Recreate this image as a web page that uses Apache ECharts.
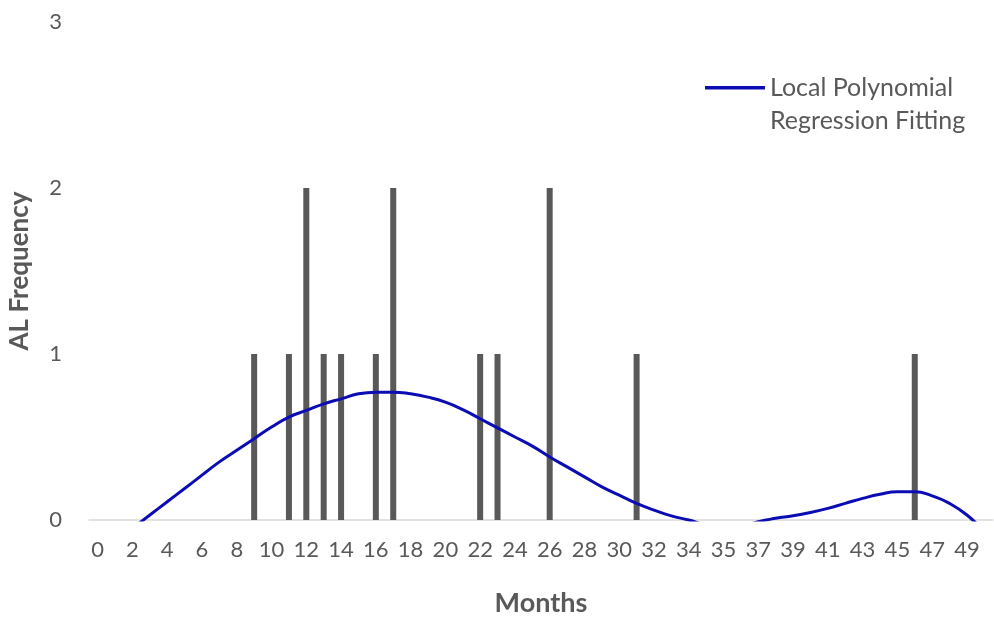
<!DOCTYPE html>
<html>
<head>
<meta charset="utf-8">
<script src="https://cdn.jsdelivr.net/npm/echarts@6/dist/echarts.min.js"></script>
<style>
  html, body { margin: 0; padding: 0; background: #fff; }
  #chart { width: 994px; height: 619px; }
</style>
</head>
<body>
<div id="chart"></div>
<script>
// categories of the x axis (months), only every second one is labelled
var months = ['0','1','2','3','4','5','6','7','8','9','10','11','12','13','14','15','16','17','18','19',
  '20','21','22','23','24','25','26','27','28','29','30','31','32','33','34','35','35','36','37','38',
  '39','40','41','42','43','44','45','46','47','48','49','50'];

// AL frequency per month (bars)
var alFrequency = [null,null,null,null,null,null,null,null,null,1,null,1,2,1,1,null,1,2,null,null,
  null,null,1,1,null,null,2,null,null,null,null,1,null,null,null,null,null,null,null,null,
  null,null,null,null,null,null,null,1,null,null,null,null];

// local polynomial regression fit (negative parts fall under the axis and get clipped)
var loessFit = [-0.2,-0.13,-0.05,0.03,0.11,0.19,0.27,0.35,0.42,0.49,0.56,0.62,0.66,0.70,0.73,0.76,0.77,0.77,0.76,0.74,
  0.71,0.665,0.61,0.555,0.50,0.445,0.38,0.32,0.26,0.20,0.15,0.10,0.06,0.025,0.0,-0.03,-0.045,-0.04,-0.01,0.01,
  0.025,0.045,0.07,0.10,0.13,0.155,0.17,0.17,0.145,0.10,0.03,-0.07];

var grey = '#595959';
var font = 'Lato';

var chart = echarts.init(document.getElementById('chart'));
chart.setOption({
  animation: false,
  grid: { left: 89, right: 1, top: 22, bottom: 99, outerBoundsMode: 'none' },
  legend: {
    // line at the top of a tall box so it lines up with the first text line
    data: [{ name: 'Local Polynomial Regression Fitting', icon: 'path://M0,0H60V3.5H0Z M0,36h0.01v0.01h-0.01Z' }],
    left: 700,
    top: 66,
    itemWidth: 60,
    itemHeight: 36,
    itemGap: 0,
    formatter: function () { return 'Local Polynomial\nRegression Fitting'; },
    textStyle: { color: grey, fontFamily: font, fontSize: 25, lineHeight: 33 }
  },
  xAxis: {
    type: 'category',
    data: months,
    boundaryGap: true,
    name: 'Months',
    nameLocation: 'middle',
    nameGap: 70,
    nameTextStyle: { color: grey, fontFamily: font, fontSize: 27, fontWeight: 'bold' },
    axisLine: { lineStyle: { color: '#d9d9d9', width: 1.5 } },
    axisTick: { show: false },
    axisLabel: { interval: 1, color: grey, fontFamily: font, fontSize: 22, margin: 19 }
  },
  yAxis: {
    type: 'value',
    min: 0,
    max: 3,
    interval: 1,
    name: 'AL Frequency',
    nameLocation: 'middle',
    nameGap: 56,
    nameTextStyle: { color: grey, fontFamily: font, fontSize: 26, fontWeight: 'bold' },
    axisLine: { show: false },
    axisTick: { show: false },
    splitLine: { show: false },
    axisLabel: { color: grey, fontFamily: font, fontSize: 22, margin: 27 }
  },
  series: [
    {
      name: 'AL Frequency',
      type: 'bar',
      data: alFrequency,
      barWidth: 6,
      itemStyle: { color: grey }
    },
    {
      name: 'Local Polynomial Regression Fitting',
      type: 'line',
      data: loessFit,
      smooth: true,
      clip: true,
      symbol: 'none',
      lineStyle: { color: '#0c0cb4', width: 3 },
      itemStyle: { color: '#0c0cb4' },
      z: 3
    }
  ]
});
</script>
</body>
</html>
